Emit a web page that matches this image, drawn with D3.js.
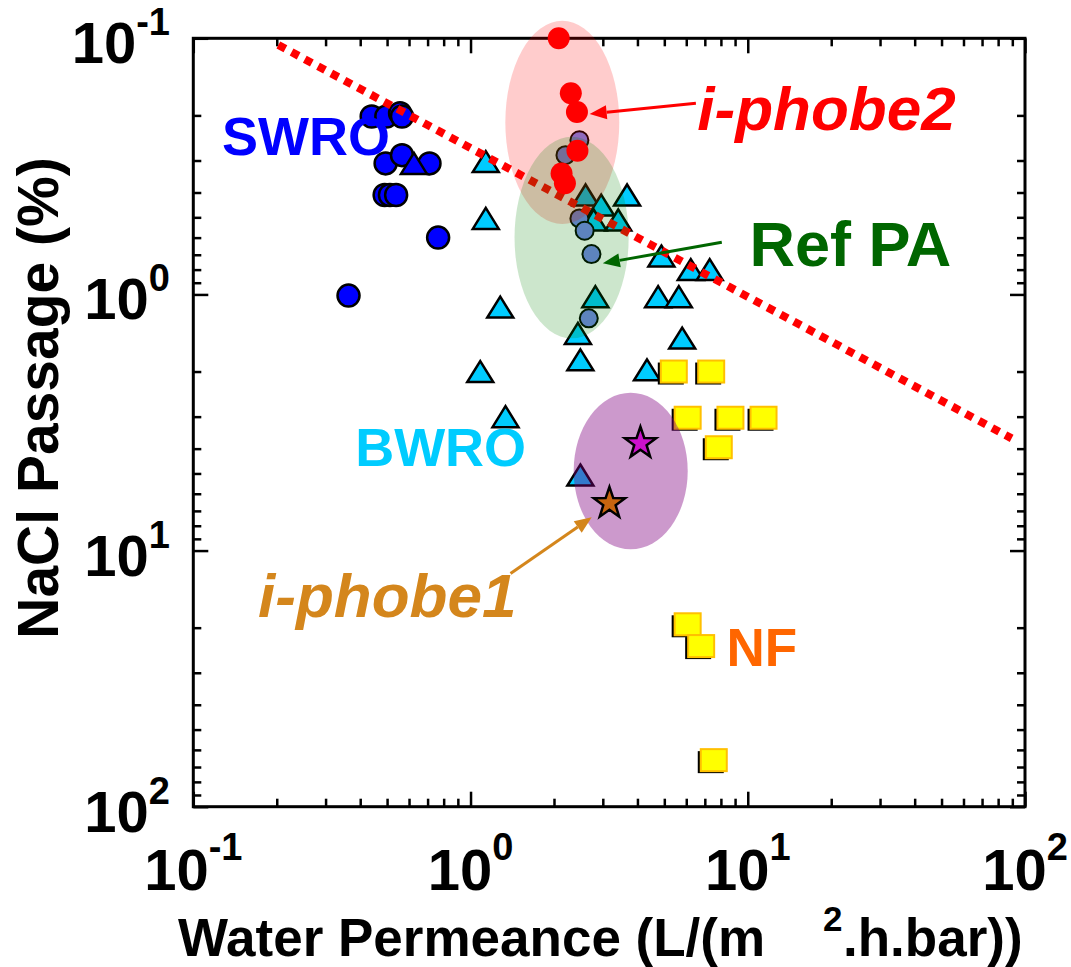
<!DOCTYPE html>
<html><head><meta charset="utf-8">
<script src="https://cdn.jsdelivr.net/npm/d3@7"></script>
<style>body{margin:0;background:#fff}svg{display:block}text{font-family:"Liberation Sans",Arial,Helvetica,sans-serif;font-weight:bold}</style>
</head><body><svg id="c" width="1071" height="967"></svg>
<script>
// ---------------- data ----------------
const tickValues = [0.1, 1, 10, 100];
const tickExponents = ["-1", "0", "1", "2"];
const xTitle = ["Water Permeance (L/(m", "2", ".h.bar))"];
const yTitle = "NaCl Passage (%)";

// SWRO (blue circles) [permeance, passage]
const swro = [[0.44,0.202],[0.497,0.202],[0.557,0.196],[0.566,0.202],[0.494,0.308],[0.566,0.286],
  [0.711,0.308],[0.49,0.409],[0.512,0.409],[0.539,0.409],[0.764,0.60],[0.363,1.01]];
const swroTri = [[0.625,0.308]];
// BWRO (cyan triangles)
const bwro = [[1.135,0.303],[1.135,0.505],[1.28,1.12],[1.084,2.0],[1.337,3.0],[2.60,0.409],[2.96,0.448],
  [3.67,0.409],[3.41,0.512],[2.78,0.512],[4.88,0.708],[6.23,0.80],[7.29,0.80],[4.75,1.02],[5.64,1.02],
  [2.82,1.02],[5.80,1.48],[2.44,1.42],[2.49,1.80],[4.33,1.97],[2.49,5.07]];
// Reference polyamide
const refPA = [[2.47,0.25],[2.20,0.286],[2.47,0.505],[2.58,0.564],[2.73,0.696],[2.67,1.24]];
// i-phobe2 (red circles)
const iphobe2 = [[2.08,0.1],[2.30,0.164],[2.42,0.194],[2.43,0.275],[2.13,0.337],[2.19,0.368]];
// i-phobe1 (stars)
const iphobe1Orange = [[3.17,6.54]];
const iphobe1Magenta = [[4.1,3.81]];
// NF (yellow squares)
const nf = [[5.41,2.0],[7.38,2.0],[6.07,3.03],[8.66,3.03],[11.4,3.03],[7.86,3.95],[6.07,19.4],[6.79,23.6],[7.54,65.8]];
// upper bound line
const boundLine = [[0.2027,0.1062],[89.5,3.647]];
// ellipses [x0,x1,y0,y1]
const ellipseIphobe2 = [1.335,3.44,0.0854,0.531];
const ellipseRefPA = [1.441,3.719,0.2423,1.484];
const ellipseIphobe1 = [2.355,6.073,2.42,9.89];
// annotations: label anchors and arrows [from, to]
const labelSWRO = [0.127,0.2855];
const labelBWRO = [0.3836,4.68];
const labelIphobe2 = [6.58,0.228];
const labelRefPA = [10.14,0.7746];
const labelIphobe1 = [0.1713,18.19];
const labelNF = [8.38,28.25];
const arrowIphobe2 = [[6.50,0.1794],[2.69,0.1975]];
const arrowRefPA = [[8.06,0.626],[3.0,0.756]];
const arrowIphobe1 = [[1.394,12.28],[2.736,7.42]];

// ---------------- drawing ----------------
const svg = d3.select("#c");
const x = d3.scaleLog().domain([0.1,100]).range([193.3,1025]);
const y = d3.scaleLog().domain([0.1,100]).range([38.3,806.7]);
const [X0,X1] = x.range(), [Y0,Y1] = y.range();
const minor = [];
[0.1,1,10].forEach(d=>{for(let k=2;k<=9;k++) minor.push(+(d*k).toPrecision(3));});

const gAx = svg.append("g");
function axisG(axis, tr){
  const g = gAx.append("g").attr("transform",tr).call(axis);
  g.select(".domain").remove(); g.selectAll("text").remove();
  g.selectAll("line").attr("stroke","#000").attr("stroke-width",2.5);
}
[[tickValues,-15],[minor,-8]].forEach(([tv,s])=>{
  axisG(d3.axisBottom(x).tickValues(tv).tickSize(s), `translate(0,${Y1})`);
  axisG(d3.axisTop(x).tickValues(tv).tickSize(s), `translate(0,${Y0})`);
  axisG(d3.axisLeft(y).tickValues(tv).tickSize(s), `translate(${X0},0)`);
  axisG(d3.axisRight(y).tickValues(tv).tickSize(s), `translate(${X1},0)`);
});
gAx.append("rect").attr("x",X0).attr("y",Y0).attr("width",X1-X0).attr("height",Y1-Y0)
  .attr("fill","none").attr("stroke","#000").attr("stroke-width",3);

// tick labels
tickValues.forEach((v,i)=>{
  const t = svg.append("text").attr("x",x(v)).attr("y",890).attr("text-anchor","middle").attr("font-size",58);
  t.append("tspan").text("10");
  t.append("tspan").attr("font-size",38).attr("dy",-30).text(tickExponents[i]);
  const t2 = svg.append("text").attr("x",170).attr("y",y(v)+25).attr("text-anchor","end").attr("font-size",58);
  t2.append("tspan").text("10");
  t2.append("tspan").attr("font-size",38).attr("dy",-28).text(tickExponents[i]);
});
// axis titles
const xt = svg.append("text").attr("x",178).attr("y",956).attr("font-size",53);
xt.append("tspan").text(xTitle[0]);
xt.append("tspan").attr("x",823).attr("y",931).attr("font-size",35).text(xTitle[1]);
xt.append("tspan").attr("x",843).attr("y",956).text(xTitle[2]);
svg.append("text").attr("transform","translate(58,398) rotate(-90)").attr("text-anchor","middle")
  .attr("font-size",57).text(yTitle);

// markers
const triPath = "M0,-10.5L13,10.5L-13,10.5Z";
function starPath(R,r){let p="";for(let i=0;i<10;i++){const a=-Math.PI/2+i*Math.PI/5,rr=i%2?r:R;p+=(i?"L":"M")+(rr*Math.cos(a)).toFixed(2)+","+(rr*Math.sin(a)).toFixed(2);}return p+"Z";}
const gm = svg.append("g");
gm.selectAll(".swro").data(swro).join("circle").attr("cx",d=>x(d[0])).attr("cy",d=>y(d[1])).attr("r",11)
  .attr("fill","#0000ff").attr("stroke","#000").attr("stroke-width",2.5);
gm.selectAll(".swt").data(swroTri).join("path").attr("d",triPath).attr("transform",d=>`translate(${x(d[0])},${y(d[1])})`)
  .attr("fill","#0000ff").attr("stroke","#000").attr("stroke-width",2.5);
gm.selectAll(".bw").data(bwro).join("path").attr("d",triPath).attr("transform",d=>`translate(${x(d[0])},${y(d[1])})`)
  .attr("fill","#00ccff").attr("stroke","#000").attr("stroke-width",2.5);
gm.selectAll(".rp").data(refPA).join("circle").attr("cx",d=>x(d[0])).attr("cy",d=>y(d[1])).attr("r",9)
  .attr("fill","#7585ee").attr("stroke","#000").attr("stroke-width",2);
const gnf = gm.append("g");
nf.forEach(d=>{
  gnf.append("rect").attr("x",x(d[0])-16).attr("y",y(d[1])-9).attr("width",26).attr("height",22).attr("fill","#000");
  gnf.append("rect").attr("x",x(d[0])-13).attr("y",y(d[1])-11).attr("width",26).attr("height",22)
    .attr("fill","#ffff00").attr("stroke","#ffc000").attr("stroke-width",2);
});

// bound line
svg.append("path").attr("d",d3.line().x(d=>x(d[0])).y(d=>y(d[1]))(boundLine))
  .attr("stroke","#ff0000").attr("stroke-width",8).attr("stroke-dasharray","8,7").attr("fill","none");

// ellipses
function ell(e,fill,op){
  const cx=(x(e[0])+x(e[1]))/2, cy=(y(e[2])+y(e[3]))/2;
  svg.append("ellipse").attr("cx",cx).attr("cy",cy).attr("rx",(x(e[1])-x(e[0]))/2).attr("ry",(y(e[3])-y(e[2]))/2)
    .attr("fill",fill).attr("fill-opacity",op);
}
ell(ellipseIphobe2,"#ff0000",0.2);
ell(ellipseRefPA,"#008000",0.2);
ell(ellipseIphobe1,"#800080",0.4);

// stars on top of ellipse
svg.selectAll(".so").data(iphobe1Orange).join("path").attr("d",starPath(16.5,6.5))
  .attr("transform",d=>`translate(${x(d[0])},${y(d[1])})`).attr("fill","#c8640f").attr("stroke","#000").attr("stroke-width",2.5);
svg.selectAll(".sm").data(iphobe1Magenta).join("path").attr("d",starPath(16.5,6.5))
  .attr("transform",d=>`translate(${x(d[0])},${y(d[1])})`).attr("fill","#cc11cc").attr("stroke","#000").attr("stroke-width",2.5);

// i-phobe2 points on top
svg.selectAll(".ip2").data(iphobe2).join("circle").attr("cx",d=>x(d[0])).attr("cy",d=>y(d[1])).attr("r",11).attr("fill","#ff0000");

// arrows
function arrow(a,color){
  const x1=x(a[0][0]),y1=y(a[0][1]),x2=x(a[1][0]),y2=y(a[1][1]);
  const ang=Math.atan2(y2-y1,x2-x1), L=17, hw=7;
  const bx=x2-L*Math.cos(ang), by=y2-L*Math.sin(ang);
  svg.append("line").attr("x1",x1).attr("y1",y1).attr("x2",bx).attr("y2",by).attr("stroke",color).attr("stroke-width",3);
  svg.append("path").attr("d",`M${x2},${y2}L${bx+hw*Math.sin(ang)},${by-hw*Math.cos(ang)}L${bx-hw*Math.sin(ang)},${by+hw*Math.cos(ang)}Z`).attr("fill",color);
}
arrow(arrowIphobe2,"#ff0000");
arrow(arrowRefPA,"#006600");
arrow(arrowIphobe1,"#d4861c");

// labels
function label(p,txt,color,fs,italic){
  return svg.append("text").attr("x",x(p[0])).attr("y",y(p[1])).attr("font-size",fs).attr("fill",color)
    .attr("font-style",italic?"italic":"normal").text(txt);
}
label(labelSWRO,"SWRO","#0000ff",54);
label(labelBWRO,"BWRO","#00ccff",54);
label(labelIphobe2,"i-phobe2","#ff0000",62,true);
label(labelRefPA,"Ref PA","#006600",63);
label(labelIphobe1,"i-phobe1","#d4861c",62,true);
label(labelNF,"NF","#ff6600",53);
</script></body></html>
